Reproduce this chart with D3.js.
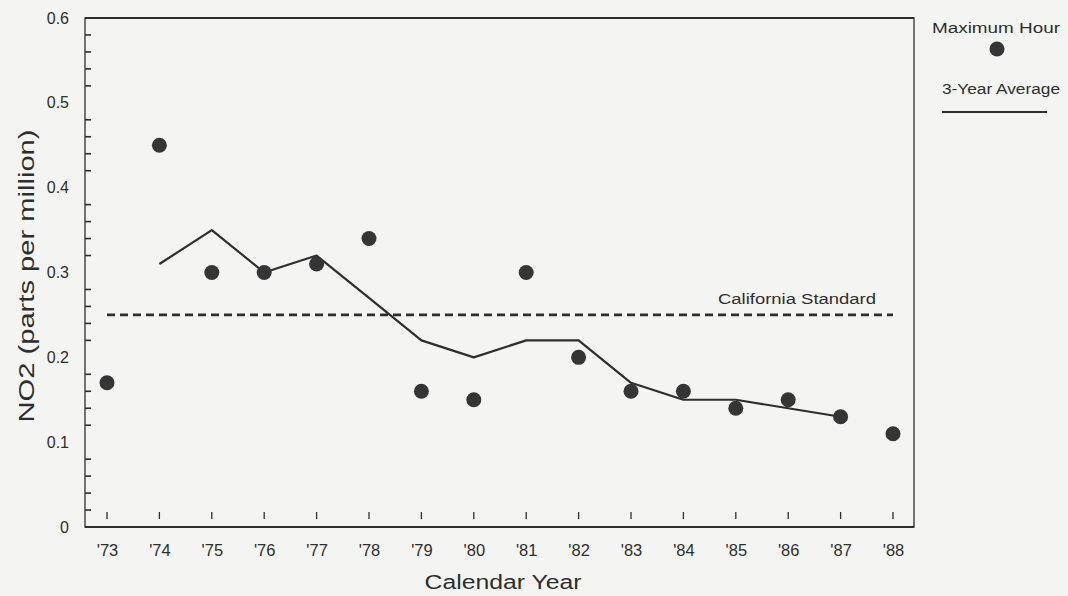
<!DOCTYPE html>
<html>
<head>
<meta charset="utf-8">
<script src="https://cdn.jsdelivr.net/npm/d3@7/dist/d3.min.js"></script>
<style>
  html, body { margin: 0; padding: 0; background: #f4f4f2; }
  svg { display: block; }
  text { font-family: "Liberation Sans", Arial, Helvetica, sans-serif; fill: #2e2e2e; }
</style>
</head>
<body>
<svg id="chart" width="1068" height="596"></svg>
<script>
// ---- data ----
const years = [1973, 1974, 1975, 1976, 1977, 1978, 1979, 1980, 1981, 1982, 1983, 1984, 1985, 1986, 1987, 1988];
const maxHour = [0.17, 0.45, 0.30, 0.30, 0.31, 0.34, 0.16, 0.15, 0.30, 0.20, 0.16, 0.16, 0.14, 0.15, 0.13, 0.11];
const avgYears = [1974, 1975, 1976, 1977, 1978, 1979, 1980, 1981, 1982, 1983, 1984, 1985, 1986, 1987];
const threeYearAvg = [0.31, 0.35, 0.30, 0.32, 0.27, 0.22, 0.20, 0.22, 0.22, 0.17, 0.15, 0.15, 0.14, 0.13];
const standardValue = [0.25];
const yTickValues = [0, 0.1, 0.2, 0.3, 0.4, 0.5, 0.6];
const yTickLabels = ["0", "0.1", "0.2", "0.3", "0.4", "0.5", "0.6"];
const xTickLabels = ["'73", "'74", "'75", "'76", "'77", "'78", "'79", "'80", "'81", "'82", "'83", "'84", "'85", "'86", "'87", "'88"];

const ink = "#2e2e2e";
const svg = d3.select("#chart");

const frame = { left: 85, right: 914, top: 18, bottom: 527 };
const x = d3.scaleLinear().domain([1973, 1988]).range([107, 893]);
const y = d3.scaleLinear().domain([0, 0.6]).range([frame.bottom, frame.top]);

// frame
svg.append("rect")
  .attr("x", frame.left).attr("y", frame.top)
  .attr("width", frame.right - frame.left).attr("height", frame.bottom - frame.top)
  .attr("fill", "none").attr("stroke", ink).attr("stroke-width", 1.3);
svg.append("line")
  .attr("x1", frame.left).attr("x2", frame.right)
  .attr("y1", frame.bottom).attr("y2", frame.bottom)
  .attr("stroke", ink).attr("stroke-width", 2.2);
svg.append("line")
  .attr("x1", frame.left).attr("x2", frame.right)
  .attr("y1", frame.top).attr("y2", frame.top)
  .attr("stroke", ink).attr("stroke-width", 1.8);

// y axis: labels via d3.axisLeft, minor ticks inward
const yAxis = d3.axisLeft(y)
  .tickValues(yTickValues)
  .tickFormat((d, i) => yTickLabels[i])
  .tickSize(0).tickPadding(16);
const gy = svg.append("g").attr("transform", `translate(${frame.left},0)`).call(yAxis);
gy.select(".domain").remove();
gy.selectAll("text").style("font-size", "16px").attr("fill", ink).attr("font-family", "Liberation Sans, Arial, sans-serif");

const minor = d3.range(1, 30).map(i => i * 0.02).filter(v => Math.abs(v * 10 - Math.round(v * 10)) > 1e-6);
svg.append("g").selectAll("line").data(minor).join("line")
  .attr("x1", frame.left).attr("x2", frame.left + 6)
  .attr("y1", d => y(d)).attr("y2", d => y(d))
  .attr("stroke", ink).attr("stroke-width", 1.6);

// x axis: labels + short inward ticks detached from axis
const xAxis = d3.axisBottom(x)
  .tickValues(years)
  .tickFormat((d, i) => xTickLabels[i])
  .tickSize(0).tickPadding(17);
const gx = svg.append("g").attr("transform", `translate(0,${frame.bottom})`).call(xAxis);
gx.select(".domain").remove();
gx.selectAll("text").style("font-size", "16.5px").attr("fill", ink).attr("font-family", "Liberation Sans, Arial, sans-serif");

svg.append("g").selectAll("line").data(years).join("line")
  .attr("x1", d => x(d)).attr("x2", d => x(d))
  .attr("y1", frame.bottom - 15).attr("y2", frame.bottom - 8)
  .attr("stroke", ink).attr("stroke-width", 1.3);

// California standard
svg.append("line")
  .attr("x1", x(1973)).attr("x2", x(1988))
  .attr("y1", y(standardValue[0])).attr("y2", y(standardValue[0]))
  .attr("stroke", ink).attr("stroke-width", 2.6)
  .attr("stroke-dasharray", "8,5");
svg.append("text")
  .attr("x", 876).attr("y", y(standardValue[0]) - 11)
  .attr("text-anchor", "end")
  .attr("textLength", 158).attr("lengthAdjust", "spacingAndGlyphs")
  .style("font-size", "14px")
  .text("California Standard");

// 3-year average line
const line = d3.line().x((d, i) => x(avgYears[i])).y(d => y(d));
svg.append("path")
  .datum(threeYearAvg)
  .attr("d", line)
  .attr("fill", "none").attr("stroke", ink).attr("stroke-width", 2.2)
  .attr("stroke-linejoin", "round");

// maximum hour points
svg.append("g").selectAll("circle").data(maxHour).join("circle")
  .attr("cx", (d, i) => x(years[i]))
  .attr("cy", d => y(d))
  .attr("r", 7.5)
  .attr("fill", "#353535");

// axis titles
svg.append("text")
  .attr("transform", "translate(34,276) rotate(-90)")
  .attr("text-anchor", "middle")
  .attr("textLength", 293).attr("lengthAdjust", "spacingAndGlyphs")
  .style("font-size", "22px")
  .text("NO2 (parts per million)");
svg.append("text")
  .attr("x", 503).attr("y", 589)
  .attr("text-anchor", "middle")
  .attr("textLength", 157).attr("lengthAdjust", "spacingAndGlyphs")
  .style("font-size", "20px")
  .text("Calendar Year");

// legend
svg.append("text")
  .attr("x", 996).attr("y", 33).attr("text-anchor", "middle")
  .attr("textLength", 128).attr("lengthAdjust", "spacingAndGlyphs")
  .style("font-size", "14px")
  .text("Maximum Hour");
svg.append("circle").attr("cx", 997).attr("cy", 49).attr("r", 7.5).attr("fill", "#353535");
svg.append("text")
  .attr("x", 1001).attr("y", 94).attr("text-anchor", "middle")
  .attr("textLength", 118).attr("lengthAdjust", "spacingAndGlyphs")
  .style("font-size", "14px")
  .text("3-Year Average");
svg.append("line")
  .attr("x1", 942).attr("x2", 1047).attr("y1", 112).attr("y2", 112)
  .attr("stroke", ink).attr("stroke-width", 2.2);
</script>
</body>
</html>
